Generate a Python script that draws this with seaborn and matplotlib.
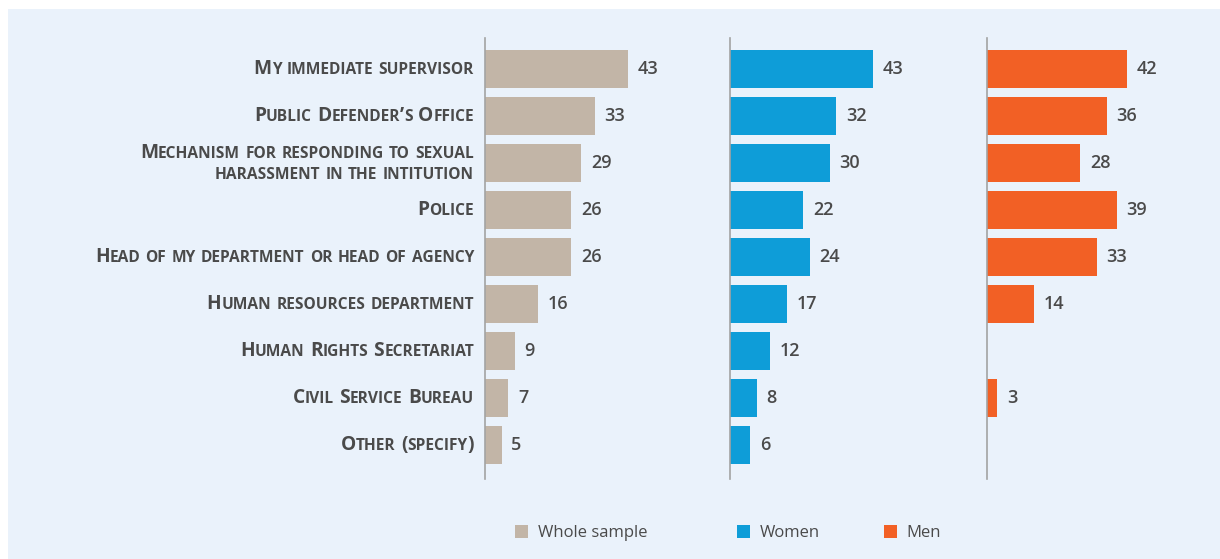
import numpy as np
import pandas as pd
import matplotlib
matplotlib.use("Agg")
import matplotlib.pyplot as plt
import seaborn as sns
from matplotlib.patches import Rectangle, Patch
from matplotlib.offsetbox import TextArea, HPacker, VPacker, AnnotationBbox

# ---------------- data ----------------
categories = [
    "My immediate supervisor",
    "Public Defender’s Office",
    "Mechanism for responding to sexual\nharassment in the intitution",
    "Police",
    "Head of my department or head of agency",
    "Human resources department",
    "Human Rights Secretariat",
    "Civil Service Bureau",
    "Other (specify)",
]
whole = [43, 33, 29, 26, 26, 16, 9, 7, 5]
women = [43, 32, 30, 22, 24, 17, 12, 8, 6]
men = [42, 36, 28, 39, 33, 14, np.nan, 3, np.nan]

groups = ["Whole sample", "Women", "Men"]
colors = ["#C2B5A7", "#0E9DD8", "#F26025"]

BG = "#EAF2FB"
TXT = "#4A4A4A"
FONT = "Open Sans"

df = pd.DataFrame({"category": categories, "Whole sample": whole,
                   "Women": women, "Men": men})
long = df.melt(id_vars="category", var_name="group", value_name="pct").dropna()

# ---------------- figure ----------------
W, H = 1220, 559
fig = plt.figure(figsize=(W / 100, H / 100), dpi=100, facecolor="white")
fig.patches.append(Rectangle((8 / W, 0), 1, 1 - 9 / H, transform=fig.transFigure,
                             facecolor=BG, edgecolor="none", zorder=-10))

px_per_unit = 3.326
ax_bot = 1 - 479 / H
ax_h = (479 - 38) / H
panels = [(485, 730), (730, 987), (987, 1220)]

axes = []
for (x0, x1), g, c in zip(panels, groups, colors):
    ax = fig.add_axes([x0 / W, ax_bot, (x1 - x0) / W, ax_h])
    ax.set_facecolor("none")
    sub = long[long["group"] == g]
    sns.barplot(data=sub, x="pct", y="category", order=categories, color=c,
                width=0.8, saturation=1, errorbar=None, ax=ax)
    ax.set_xlim(0, (x1 - x0) / px_per_unit)
    ax.set_ylim(8.728, -0.655)
    for cont in ax.containers:
        ax.bar_label(cont, fmt="%d", padding=7, color=TXT, fontsize=13,
                     fontweight="semibold", family=FONT)
    ax.set_xlabel("")
    ax.set_ylabel("")
    ax.set_xticks([])
    ax.set_yticks([])
    for s in ["top", "right", "bottom"]:
        ax.spines[s].set_visible(False)
    ax.spines["left"].set_color("#A3A3A3")
    ax.spines["left"].set_linewidth(1.2)
    axes.append(ax)


# ---------------- small-caps category labels ----------------
def smallcaps_word(word, big=13.8, small=11.2):
    runs = []
    for ch in word:
        is_big = not ch.islower()
        if runs and runs[-1][0] == is_big:
            runs[-1][1] += ch
        else:
            runs.append([is_big, ch])
    kids = [TextArea(t.upper(), textprops=dict(fontsize=big if b else small,
                                               fontweight="bold", color=TXT,
                                               family=FONT))
            for b, t in runs]
    return HPacker(children=kids, align="baseline", pad=0, sep=0)


def smallcaps_line(line):
    words = [smallcaps_word(w) for w in line.split(" ")]
    return HPacker(children=words, align="baseline", pad=0, sep=3.8)


ax1 = axes[0]
for i, cat in enumerate(categories):
    lines = [smallcaps_line(l) for l in cat.split("\n")]
    box = lines[0] if len(lines) == 1 else VPacker(children=lines, align="right",
                                                   pad=0, sep=3)
    ab = AnnotationBbox(box, (0, i), xycoords=ax1.get_yaxis_transform(),
                        xybox=(-8, 0), boxcoords="offset points",
                        box_alignment=(1, 0.5), frameon=False, pad=0)
    ax1.add_artist(ab)

# ---------------- legend ----------------
leg_x = [515, 737, 884]
for x, g, c in zip(leg_x, groups, colors):
    fig.legend(handles=[Patch(facecolor=c, edgecolor="none", label=g)],
               loc="center left", bbox_to_anchor=(x / W, 1 - 533 / H),
               frameon=False, borderpad=0, borderaxespad=0,
               handlelength=0.8, handleheight=0.8, handletextpad=0.55,
               prop=dict(family=FONT, size=12), labelcolor=TXT)

fig.savefig("out.png", dpi=100, facecolor="white")
